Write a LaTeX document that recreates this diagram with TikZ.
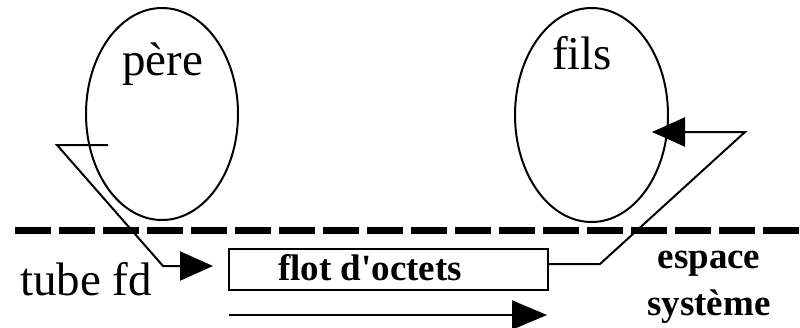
\documentclass[tikz,border=0pt]{standalone}
\usepackage{fontspec}
\setmainfont{Liberation Serif}[Ligatures=TeXOff]
\usetikzlibrary{arrows.meta,shapes.geometric}
\begin{document}
\begin{tikzpicture}[x=1pt,y=-1pt,
  proc/.style={draw,ellipse,line width=2pt,inner sep=0pt},
  conn/.style={line width=2pt},
  big/.style={font=\fontsize{47}{50}\selectfont,inner sep=0pt},
  bold/.style={font=\fontsize{37}{40}\selectfont\bfseries,inner sep=0pt},
  tip/.style={-{Triangle[length=33pt,width=29pt]}}]
\useasboundingbox (0,0) rectangle (800,327);
\fill[white] (0,0) rectangle (800,327);
% processes
\node[proc,minimum width=152pt,minimum height=212pt] (pere) at (162,114) {};
\node[proc,minimum width=153pt,minimum height=214pt] (fils) at (591.5,115) {};
\node[big,anchor=base west] (tpere) at (122,75) {père};
\node[big,anchor=base west] (tfils) at (552,69) {fils};
% system boundary
\coordinate (dl) at (15,230);
\coordinate (dr) at (800,230);
\draw[line width=7pt,dash pattern=on 36pt off 8pt] (dl) -- (dr);
% pipe
\node[draw,line width=2pt,minimum width=319pt,minimum height=41pt,inner sep=0pt] (box) at (388.5,269.5) {};
\node[bold,anchor=base west] (tflot) at (278,280) {flot d'octets};
\node[big,anchor=base west] (ttube) at (20,295) {tube fd};
\node[bold,anchor=base] (tesp) at (709,268) {espace};
\node[bold,anchor=base] (tsys) at (709,315) {système};
% write end
\coordinate (w0) at (108,145);
\coordinate (w1) at (57,145);
\coordinate (w2) at (163,266);
\coordinate (w3) at (213,266);
\draw[conn,tip] (w0) -- (w1) -- (w2) -- (w3);
% read end
\coordinate (r0) at (box.east |- 0,264);
\coordinate (r1) at (600,264);
\coordinate (r2) at (745,132);
\coordinate (r3) at (652,132);
\draw[conn,tip] (r0) -- (r1) -- (r2) -- (r3);
% flow direction
\coordinate (f0) at (229,315);
\coordinate (f1) at (547,315);
\draw[conn,-{Triangle[length=35pt,width=29pt]}] (f0) -- (f1);
\end{tikzpicture}
\end{document}
